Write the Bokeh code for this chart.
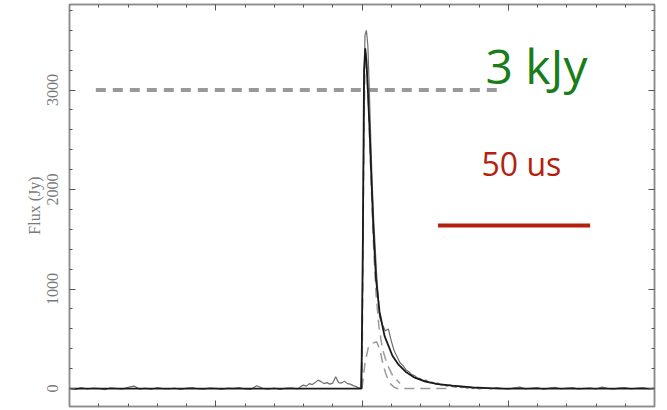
import numpy as np
from bokeh.plotting import figure
from bokeh.models import FixedTicker, LinearAxis, Range1d, CustomLabelingPolicy
from bokeh.core.properties import value
from bokeh.embed import file_html
from bokeh.resources import INLINE

# ---------------- data (time in microseconds, flux in Jy) ----------------
# observed profile (grey, noisy)
obs_t_a = np.arange(0, 80, 2)
obs_f_a = [5, -8, 10, -4, 6, 2, -10, 8, 3, -6, 12, 25, -5, 4, -7, 9, 0, -3, 6, -9,
           4, 11, -2, -6, 7, 3, -8, 5, 2, 10, -4, -7, 28, 3, -5, 6, -9, 4, 8, -3]
obs_t_b = np.arange(79, 100)
obs_f_b = [20, 35, 25, 50, 40, 60, 85, 70, 50, 60, 45, 55, 120, 60, 55, 75, 50, 45, 30, 20, 5]
obs_t_c = [99.5, 100, 100.5, 101, 101.5, 102, 102.5, 103, 103.5, 104] + list(range(105, 141))
obs_f_c = [10, 400, 2200, 3550, 3600, 3450, 3000, 2500, 2050, 1700,
           1150, 720, 640, 580, 600, 480, 380, 320, 260, 230, 190, 170, 140, 130, 105,
           100, 80, 85, 60, 65, 45, 55, 35, 40, 25, 35, 20, 15, 25, 10, 15, 5, 12, 0, 8, -3]
obs_t_d = np.arange(142, 201, 2)
obs_f_d = [6, -4, 10, 2, -6, 8, 15, -3, 5, 9, -7, 4, 12, -2, 6, 10, -5, 3, 8, -4,
           14, 2, -6, 7, 10, -3, 5, 9, -2, 4]

# total model fit (black)
fit_t = [0, 99.8, 100.3, 100.7, 101.1, 101.5, 102.0, 102.6, 103.1, 103.9, 104.8,
         106.0, 107.7, 110.4, 112.5, 114.9, 118.0, 121.7, 126.0, 130.9, 137.8, 147, 200]
fit_f = [0, 0, 1500, 3200, 3420, 3300, 3000, 2600, 2200, 1600, 1100,
         770, 530, 330, 240, 170, 110, 70, 45, 30, 12, 0, 0]

# model components (dashed)
comp1_t = [100.0, 100.6, 101.1, 101.6, 102.2, 102.8, 103.4, 104.0, 104.8, 105.8, 107.0, 108.5, 110.5, 113]
comp1_f = [0, 2400, 3400, 3250, 2850, 2350, 1850, 1400, 950, 620, 400, 250, 130, 50]
comp2_t = [100.0, 101.0, 102.2, 103.5, 105.0, 106.0, 107.0, 108.0, 108.8, 109.8, 111, 112, 120, 129]
comp2_f = [0, 250, 420, 455, 470, 400, 270, 160, 100, 45, 15, 0, 0, 0]

# annotations
ref_t = [9, 147]
ref_f = [3000, 3000]
bar_t = [126, 178]
bar_f = [1640, 1640]
label_kjy = "3 kJy"
label_kjy_pos = (142.2, 3250)
label_us = "50 us"
label_us_pos = (154.5, 2260)

x_major = [0, 50, 100, 150, 200]
x_minor = list(range(0, 201, 10))
y_major = [0, 1000, 2000, 3000]
y_minor = list(range(-200, 4001, 200))

# ---------------- figure ----------------
p = figure(width=667, height=410, x_range=Range1d(0, 200), y_range=Range1d(-180, 3860),
           output_backend="svg", toolbar_location=None,
           min_border_left=69, min_border_right=13, min_border_top=4, min_border_bottom=2)
p.grid.visible = False
p.outline_line_color = "#8c8c8c"
p.outline_line_width = 1.5

axis_col = "#8c8c8c"
tick_col = "#555555"

def style_axis(ax, labels):
    ax.axis_line_color = axis_col
    ax.axis_line_width = 1.5
    ax.major_tick_line_color = tick_col
    ax.minor_tick_line_color = tick_col
    ax.major_tick_in = 6
    ax.major_tick_out = 0
    ax.minor_tick_in = 3
    ax.minor_tick_out = 0
    if not labels:
        ax.major_label_policy = CustomLabelingPolicy(
            code="for (const i of Array.from(indices)) { indices.unset(i) }\nreturn indices")
        ax.major_label_standoff = 0
        ax.major_label_text_font_size = "1px"

xt = FixedTicker(ticks=x_major, minor_ticks=x_minor)
yt = FixedTicker(ticks=y_major, minor_ticks=y_minor)

p.xaxis[0].ticker = xt
style_axis(p.xaxis[0], False)

ya = p.yaxis[0]
ya.ticker = yt
style_axis(ya, True)
ya.major_label_orientation = "vertical"
ya.major_label_text_font = "Liberation Serif"
ya.major_label_text_font_size = "16px"
ya.major_label_text_color = "#7a7a7a"
ya.major_label_standoff = 11
ya.axis_label = "Flux (Jy)"
ya.axis_label_text_font = "Liberation Serif"
ya.axis_label_text_font_size = "16px"
ya.axis_label_text_font_style = "normal"
ya.axis_label_text_color = "#7a7a7a"
ya.axis_label_standoff = 2

top = LinearAxis(ticker=FixedTicker(ticks=x_major, minor_ticks=x_minor))
style_axis(top, False)
p.add_layout(top, "above")
right = LinearAxis(ticker=FixedTicker(ticks=y_major, minor_ticks=y_minor))
style_axis(right, False)
p.add_layout(right, "right")

# ---------------- glyphs ----------------
obs_t = np.concatenate([obs_t_a, obs_t_b, np.array(obs_t_c), obs_t_d])
obs_f = np.concatenate([obs_f_a, obs_f_b, obs_f_c, obs_f_d])

p.line(ref_t, ref_f, line_color="#999999", line_width=4, line_dash="10 7")
p.line(comp2_t, comp2_f, line_color="#9a9a9a", line_width=1.5, line_dash="10 6")
p.line(comp1_t, comp1_f, line_color="#9a9a9a", line_width=1.5, line_dash="10 6")
p.line(obs_t, obs_f, line_color="#6e6e6e", line_width=1.2)
p.line(fit_t, fit_f, line_color="#1a1a1a", line_width=1.8)

p.line(bar_t, bar_f, line_color="#b5200d", line_width=4)

p.text(x=[label_kjy_pos[0]], y=[label_kjy_pos[1]], text=[label_kjy],
       text_font=value("Open Sans"), text_font_size=value("48px"),
       text_color="#1a7d1a", text_align="left", text_baseline="alphabetic")
p.text(x=[label_us_pos[0]], y=[label_us_pos[1]], text=[label_us],
       text_font=value("Open Sans"), text_font_size=value("32px"),
       text_color="#b5200d", text_align="center", text_baseline="alphabetic")

open("out.html", "w").write(file_html(p, INLINE))
